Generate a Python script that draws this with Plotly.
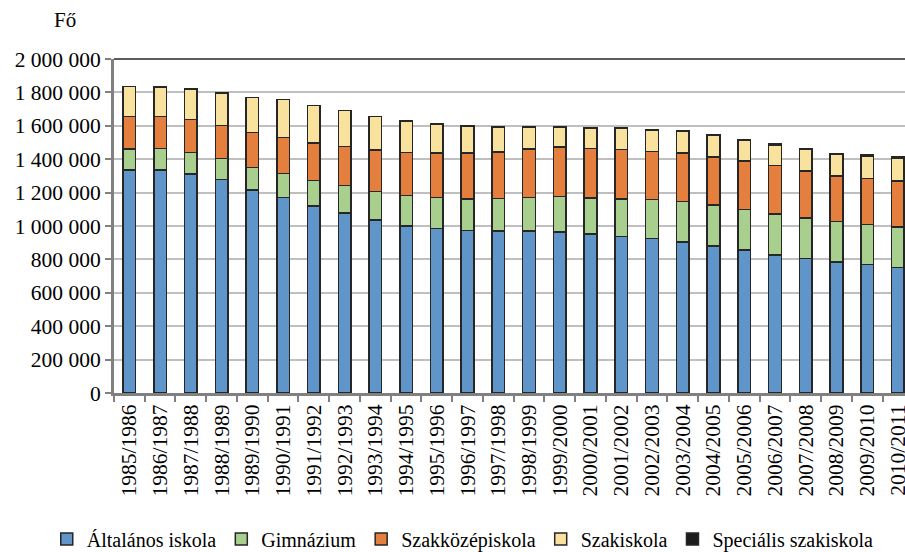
import plotly.graph_objects as go

years = ["1985/1986", "1986/1987", "1987/1988", "1988/1989", "1989/1990", "1990/1991",
         "1991/1992", "1992/1993", "1993/1994", "1994/1995", "1995/1996", "1996/1997",
         "1997/1998", "1998/1999", "1999/2000", "2000/2001", "2001/2002", "2002/2003",
         "2003/2004", "2004/2005", "2005/2006", "2006/2007", "2007/2008", "2008/2009",
         "2009/2010", "2010/2011"]

altalanos = [1334000, 1334000, 1312000, 1278000, 1216000, 1170000, 1119000, 1077000,
             1035000, 1001000, 985000, 973000, 969000, 969000, 965000, 953000, 937000,
             925000, 903000, 881000, 857000, 826000, 804000, 784000, 768000, 752000]
gimnazium = [128000, 130000, 128000, 126000, 134000, 144000, 153000, 165000, 171000,
             183000, 187000, 190000, 196000, 202000, 211000, 214000, 224000, 234000,
             244000, 244000, 242000, 247000, 245000, 243000, 241000, 241000]
szakkozep = [193000, 191000, 197000, 197000, 209000, 217000, 225000, 234000, 248000,
             256000, 264000, 273000, 279000, 289000, 296000, 297000, 297000, 287000,
             291000, 289000, 289000, 289000, 281000, 273000, 275000, 277000]
szakiskola = [179000, 177000, 183000, 194000, 210000, 226000, 224000, 215000, 201000,
              189000, 175000, 163000, 149000, 131000, 119000, 123000, 127000, 129000,
              127000, 127000, 125000, 124000, 130000, 128000, 134000, 136000]
specialis = [0, 0, 0, 0, 0, 0, 0, 0, 1000, 1500, 2000, 2000, 2500, 2500, 3000, 3000,
             3000, 3500, 5000, 6000, 6000, 5000, 5000, 6000, 7000, 6000]

series_names = ["Általános iskola", "Gimnázium", "Szakközépiskola", "Szakiskola",
                "Speciális szakiskola"]
series_values = [altalanos, gimnazium, szakkozep, szakiskola, specialis]
series_colors = ["#5F95C9", "#A9CF8F", "#E57F3D", "#F9E29D", "#1C1C1C"]

y_tick_vals = [0, 200000, 400000, 600000, 800000, 1000000, 1200000, 1400000,
               1600000, 1800000, 2000000]
y_tick_text = ["0", "200 000", "400 000", "600 000", "800 000", "1 000 000",
               "1 200 000", "1 400 000", "1 600 000", "1 800 000", "2 000 000"]

FONT = "'Times New Roman', 'Liberation Serif', Tinos, 'DejaVu Serif', serif"

fig = go.Figure()
for name, vals, col in zip(series_names, series_values, series_colors):
    fig.add_trace(go.Bar(
        x=years, y=vals, name=name,
        marker=dict(color=col, line=dict(color="#262626", width=1.5)),
    ))

fig.update_layout(
    barmode="stack",
    bargap=0.59,
    width=905, height=552,
    margin=dict(l=114, r=0, t=59, b=159, autoexpand=False),
    plot_bgcolor="white",
    paper_bgcolor="white",
    font=dict(family=FONT, size=21, color="black"),
    showlegend=True,
    legend=dict(orientation="h", x=-0.085, xanchor="left", y=-0.437, yanchor="middle",
                font=dict(family=FONT, size=20, color="black"),
                itemwidth=30, tracegroupgap=0, traceorder="normal"),
    xaxis=dict(
        type="category",
        range=[-0.5, 25.23],
        automargin=False,
        tickangle=-90,
        tickfont=dict(family=FONT, size=21.5, color="black"),
        showline=True, linecolor="#808080", linewidth=3,
        ticks="outside", tickson="boundaries", ticklen=6, tickcolor="#808080", tickwidth=2,
        showgrid=False,
    ),
    yaxis=dict(
        range=[0, 2000000],
        automargin=False,
        tickvals=y_tick_vals, ticktext=y_tick_text,
        tickfont=dict(family=FONT, size=21.5, color="black"),
        showline=True, linecolor="#808080", linewidth=3,
        ticks="outside", ticklen=6, tickcolor="#808080", tickwidth=2,
        showgrid=True, gridcolor="#BFBFBF", gridwidth=1.5,
        zeroline=False,
    ),
    annotations=[dict(text="Fő", xref="paper", yref="paper", x=-0.062, y=1.117,
                      xanchor="center", yanchor="middle", showarrow=False,
                      font=dict(family=FONT, size=21, color="black"))],
    shapes=[dict(type="line", xref="paper", yref="paper", x0=0, x1=1, y0=1, y1=1,
                 line=dict(color="#262626", width=1.5))],
)

fig.write_html(
    "out.html",
    config={"displayModeBar": False},
    post_script="document.body.style.margin='0';document.body.style.overflow='hidden';",
)
